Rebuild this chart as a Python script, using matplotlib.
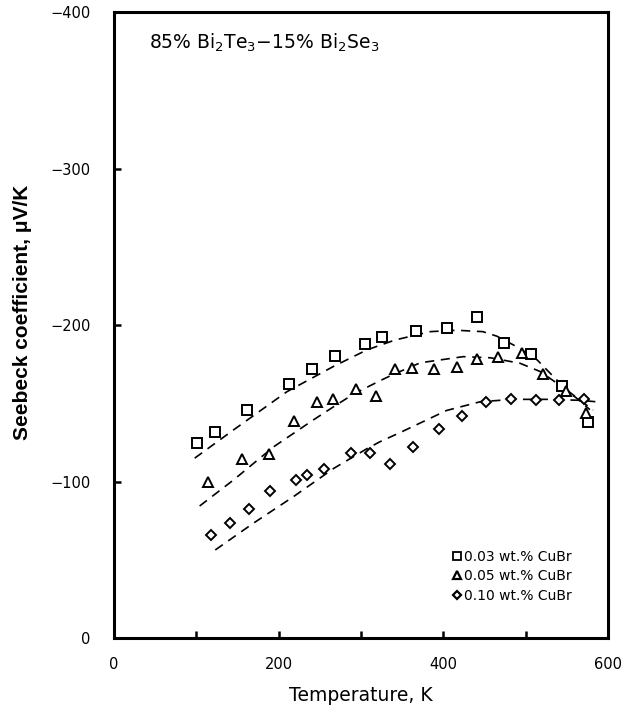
import matplotlib
matplotlib.use("Agg")
import matplotlib.pyplot as plt
from matplotlib.lines import Line2D

plt.rcParams['font.family'] = ['DejaVu Sans']
plt.rcParams['mathtext.fontset'] = 'dejavusans'

# ---- data (Temperature K, Seebeck coefficient uV/K) ----
t_003 = [101, 123, 162, 212, 241, 268, 305, 326, 367, 405, 441, 474, 507, 544, 576]
s_003 = [-125, -131.5, -145.6, -162.6, -172, -180.2, -187.8, -192.5, -196.3, -198, -205.1, -188.8, -181.4, -161, -138.1]

t_005 = [114, 156, 188, 219, 247, 266, 294, 318, 341, 362, 389, 416, 441, 466, 496, 521, 549, 573]
s_005 = [-100, -114.5, -117.9, -139, -150.7, -152.6, -159.2, -154.8, -172, -172.9, -171.8, -173.1, -178.4, -179.5, -182.5, -168.8, -158.2, -144.1]

t_010 = [118, 141, 164, 190, 221, 235, 255, 288, 311, 335, 363, 395, 423, 452, 482, 512, 540, 571]
s_010 = [-65.7, -73.5, -82.3, -94, -101, -104, -108.1, -118.1, -118.1, -111.5, -122.3, -133.5, -141.8, -150.7, -153, -152.4, -152.2, -153]

# dashed fit curves
fit_t_003 = [98, 145, 210, 266, 307, 341, 384, 416, 448, 465, 489, 514, 534, 550, 566, 582]
fit_s_003 = [-115, -133, -157.5, -173.5, -184.2, -190.5, -195.9, -196.8, -195.9, -193, -186.3, -177.8, -167, -158.6, -152, -145.8]

fit_t_005 = [104, 145, 194, 242, 267, 291, 323, 339, 372, 424, 457, 493, 518, 538, 562, 578]
fit_s_005 = [-84.4, -101, -122.3, -139.4, -148, -156, -164.5, -168.5, -176, -179.9, -179.2, -175.7, -170.3, -162.9, -153.3, -146]

fit_t_010 = [123, 169, 218, 267, 307, 323, 348, 364, 404, 445, 485, 526, 566, 587]
fit_s_010 = [-56.3, -73.3, -90.4, -108.5, -121, -125.5, -131.5, -135.5, -145.5, -151.1, -152.6, -152.6, -152, -151]

labels = ['0.03 wt.% CuBr', '0.05 wt.% CuBr', '0.10 wt.% CuBr']

fig = plt.figure(figsize=(6.38, 7.13), dpi=100)
ax = fig.add_axes([0.1787, 0.1052, 0.7743, 0.8773])

dash = dict(color='black', lw=1.2, ls=(0, (5.5, 4)))
ax.plot(fit_t_003, fit_s_003, **dash)
ax.plot(fit_t_005, fit_s_005, **dash)
ax.plot(fit_t_010, fit_s_010, **dash)

mk = dict(ls='none', mfc='white', mec='black', mew=1.4)
ax.plot(t_003, s_003, marker='s', ms=7, **mk)
ax.plot(t_005, s_005, marker='^', ms=7.5, **mk)
ax.plot(t_010, s_010, marker='D', ms=5.2, **mk)

ax.set_xlim(0, 600)
ax.set_ylim(0, -400)
ax.set_xticks([0, 100, 200, 300, 400, 500, 600])
ax.set_xticklabels(['0', '', '200', '', '400', '', '600'])
ax.set_yticks([0, -100, -200, -300, -400])
for sp in ax.spines.values():
    sp.set_linewidth(2.2)
ax.tick_params(axis='both', direction='in', length=5, width=1.8, labelsize=10.5)
ax.tick_params(axis='y', pad=17)
ax.tick_params(axis='x', pad=14)

ax.set_xlabel('Temperature, K', fontsize=13.5)
ax.xaxis.set_label_coords(0.5, -0.076)
ax.set_ylabel('Seebeck coefficient, μV/K', fontsize=15, fontweight='bold',
              family='Liberation Sans')
ax.yaxis.set_label_coords(-0.166, 0.52)

ax.text(0.071, 0.951, r'85% Bi$_2$Te$_3$−15% Bi$_2$Se$_3$', transform=ax.transAxes,
        fontsize=13.5, va='center', ha='left')

handles = [
    Line2D([], [], marker='s', ms=5.5, ls='none', mfc='white', mec='black', mew=1.3),
    Line2D([], [], marker='^', ms=6, ls='none', mfc='white', mec='black', mew=1.6),
    Line2D([], [], marker='D', ms=4.5, ls='none', mfc='white', mec='black', mew=1.6),
]
ax.legend(handles, labels, loc='lower right', bbox_to_anchor=(0.94, 0.045), frameon=False,
          fontsize=10, handlelength=0.6, handletextpad=0.2, labelspacing=0.4, borderpad=0)

fig.savefig('out.png', dpi=100)
